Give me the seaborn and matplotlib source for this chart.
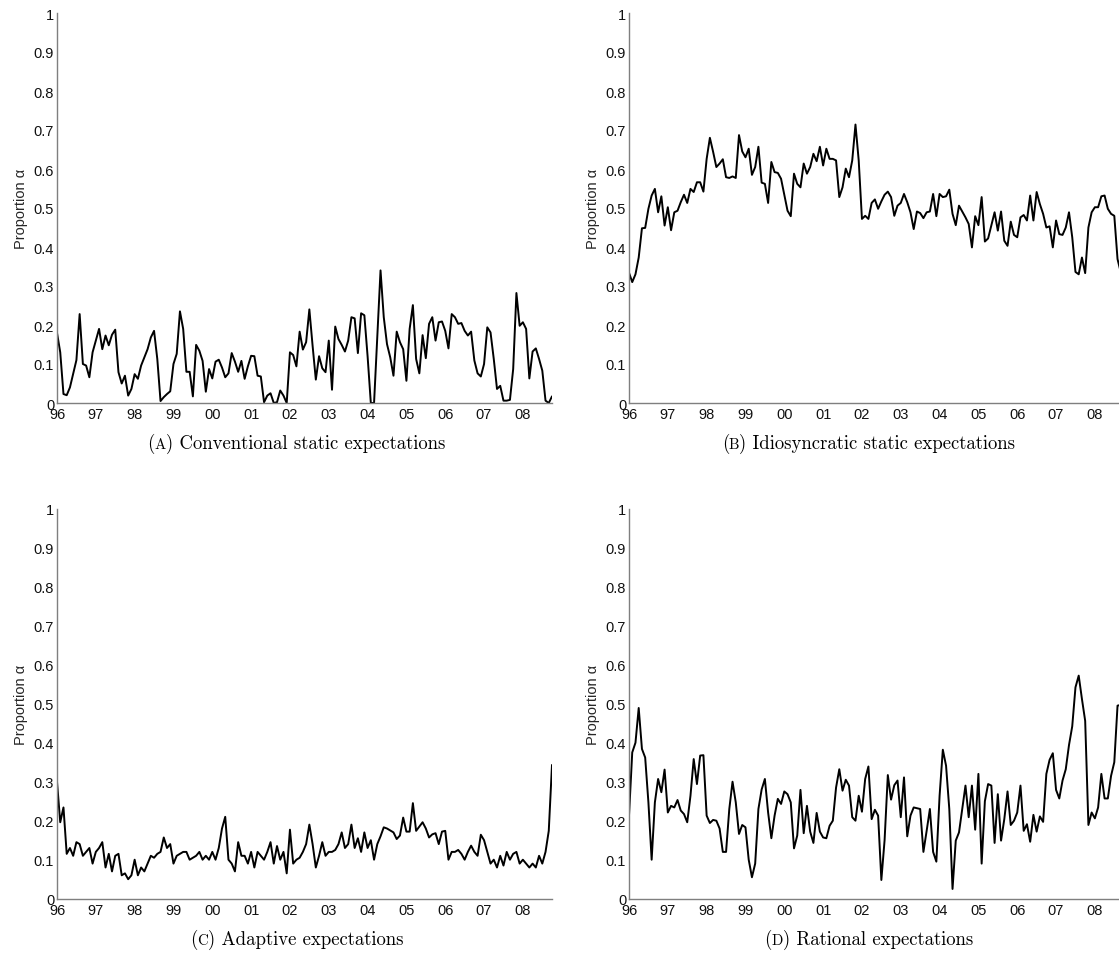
import numpy as np
import pandas as pd
import matplotlib
matplotlib.use("Agg")
import matplotlib.pyplot as plt
import seaborn as sns
from matplotlib.offsetbox import TextArea, HPacker, AnnotationBbox

# ---------------- data (monthly, Jan 1996 .. Oct 2008) ----------------
start_year = 1996
year_ticks = list(range(1996, 2009))
year_labels = ["96", "97", "98", "99", "00", "01", "02", "03", "04", "05", "06", "07", "08"]
y_ticks = [0, 0.1, 0.2, 0.3, 0.4, 0.5, 0.6, 0.7, 0.8, 0.9, 1]
y_labels = ["0", "0.1", "0.2", "0.3", "0.4", "0.5", "0.6", "0.7", "0.8", "0.9", "1"]

conventional = [
    0.18, 0.13, 0.023, 0.02, 0.04, 0.075, 0.11, 0.228, 0.10, 0.096, 0.066, 0.13,
    0.16, 0.19, 0.138, 0.173, 0.148, 0.175, 0.188, 0.079, 0.05, 0.07, 0.019, 0.036,
    0.074, 0.062, 0.096, 0.117, 0.138, 0.168, 0.185, 0.113, 0.005, 0.015, 0.023, 0.03,
    0.10, 0.126, 0.235, 0.19, 0.08, 0.08, 0.017, 0.149, 0.134, 0.108, 0.029, 0.087,
    0.063, 0.106, 0.111, 0.091, 0.066, 0.076, 0.128, 0.106, 0.08, 0.108, 0.062, 0.094,
    0.121, 0.12, 0.07, 0.068, 0.002, 0.019, 0.025, 0.0, 0.002, 0.032, 0.019, 0.0,
    0.13, 0.123, 0.094, 0.183, 0.137, 0.156, 0.24, 0.147, 0.06, 0.12, 0.089, 0.079,
    0.16, 0.034, 0.196, 0.164, 0.149, 0.132, 0.16, 0.22, 0.217, 0.128, 0.23, 0.225,
    0.12, 0.0, 0.0, 0.17, 0.34, 0.22, 0.151, 0.117, 0.07, 0.183, 0.156, 0.138,
    0.057, 0.19, 0.251, 0.113, 0.076, 0.174, 0.115, 0.203, 0.22, 0.16, 0.207, 0.209,
    0.185, 0.14, 0.228, 0.22, 0.203, 0.205, 0.185, 0.173, 0.183, 0.109, 0.076, 0.068,
    0.1, 0.194, 0.181, 0.113, 0.036, 0.044, 0.006, 0.006, 0.008, 0.087, 0.282, 0.198,
    0.207, 0.19, 0.063, 0.132, 0.14, 0.113, 0.083, 0.006, 0.0, 0.017,
]

idiosyncratic = [
    0.334, 0.31, 0.33, 0.373, 0.448, 0.449, 0.498, 0.532, 0.549, 0.489, 0.53, 0.455,
    0.502, 0.443, 0.489, 0.493, 0.515, 0.534, 0.513, 0.549, 0.541, 0.566, 0.566, 0.542,
    0.626, 0.68, 0.644, 0.605, 0.614, 0.625, 0.579, 0.577, 0.581, 0.577, 0.687, 0.645,
    0.63, 0.652, 0.585, 0.605, 0.657, 0.565, 0.562, 0.513, 0.618, 0.592, 0.59, 0.575,
    0.534, 0.493, 0.479, 0.588, 0.562, 0.553, 0.614, 0.588, 0.605, 0.639, 0.62, 0.657,
    0.609, 0.652, 0.626, 0.626, 0.622, 0.528, 0.553, 0.601, 0.579, 0.622, 0.714, 0.622,
    0.472, 0.48, 0.472, 0.513, 0.522, 0.498, 0.517, 0.534, 0.542, 0.528, 0.48, 0.506,
    0.513, 0.536, 0.515, 0.489, 0.446, 0.491, 0.487, 0.474, 0.489, 0.491, 0.536, 0.479,
    0.536, 0.528, 0.53, 0.547, 0.485, 0.456, 0.506, 0.491, 0.476, 0.459, 0.399, 0.479,
    0.456, 0.528, 0.414, 0.422, 0.455, 0.489, 0.442, 0.491, 0.416, 0.403, 0.465, 0.431,
    0.425, 0.476, 0.482, 0.468, 0.532, 0.468, 0.541, 0.51, 0.485, 0.45, 0.453, 0.399,
    0.468, 0.433, 0.431, 0.45, 0.489, 0.425, 0.336, 0.33, 0.373, 0.333, 0.45, 0.489,
    0.502, 0.502, 0.53, 0.532, 0.498, 0.485, 0.48, 0.369, 0.335, 0.32,
]

adaptive = [
    0.30, 0.196, 0.234, 0.115, 0.13, 0.11, 0.145, 0.14, 0.11, 0.12, 0.13, 0.09,
    0.12, 0.13, 0.145, 0.08, 0.115, 0.07, 0.11, 0.115, 0.06, 0.065, 0.05, 0.06,
    0.10, 0.06, 0.08, 0.07, 0.09, 0.11, 0.105, 0.115, 0.12, 0.157, 0.13, 0.14,
    0.09, 0.11, 0.115, 0.12, 0.12, 0.10, 0.105, 0.11, 0.12, 0.10, 0.11, 0.10,
    0.12, 0.10, 0.13, 0.18, 0.21, 0.10, 0.09, 0.07, 0.145, 0.11, 0.11, 0.09,
    0.12, 0.08, 0.12, 0.11, 0.10, 0.12, 0.145, 0.09, 0.135, 0.10, 0.12, 0.065,
    0.177, 0.09, 0.10, 0.105, 0.12, 0.14, 0.19, 0.14, 0.08, 0.11, 0.145, 0.11,
    0.12, 0.12, 0.125, 0.14, 0.17, 0.13, 0.14, 0.19, 0.13, 0.155, 0.12, 0.17,
    0.13, 0.15, 0.10, 0.14, 0.16, 0.183, 0.18, 0.175, 0.17, 0.153, 0.162, 0.208,
    0.172, 0.172, 0.245, 0.174, 0.185, 0.196, 0.18, 0.157, 0.165, 0.168, 0.14, 0.172,
    0.174, 0.10, 0.12, 0.12, 0.125, 0.115, 0.10, 0.12, 0.136, 0.12, 0.11, 0.164,
    0.15, 0.12, 0.09, 0.10, 0.08, 0.11, 0.085, 0.12, 0.10, 0.115, 0.12, 0.09,
    0.10, 0.09, 0.08, 0.09, 0.08, 0.11, 0.09, 0.12, 0.174, 0.343,
]

rational = [
    0.213, 0.375, 0.40, 0.489, 0.384, 0.362, 0.247, 0.10, 0.247, 0.307, 0.273, 0.331,
    0.221, 0.238, 0.234, 0.253, 0.226, 0.217, 0.196, 0.264, 0.358, 0.294, 0.367, 0.368,
    0.213, 0.194, 0.202, 0.2, 0.18, 0.12, 0.12, 0.23, 0.30, 0.247, 0.166, 0.189,
    0.183, 0.10, 0.055, 0.09, 0.23, 0.28, 0.307, 0.221, 0.155, 0.213, 0.256, 0.243,
    0.275, 0.268, 0.247, 0.129, 0.162, 0.279, 0.168, 0.238, 0.172, 0.143, 0.22, 0.172,
    0.157, 0.155, 0.187, 0.2, 0.285, 0.332, 0.277, 0.305, 0.29, 0.209, 0.2, 0.264,
    0.223, 0.307, 0.339, 0.204, 0.228, 0.213, 0.048, 0.15, 0.317, 0.254, 0.291, 0.303,
    0.209, 0.311, 0.16, 0.213, 0.234, 0.232, 0.23, 0.12, 0.174, 0.23, 0.12, 0.095,
    0.264, 0.382, 0.341, 0.23, 0.025, 0.149, 0.17, 0.23, 0.29, 0.209, 0.29, 0.177,
    0.32, 0.09, 0.25, 0.294, 0.29, 0.143, 0.268, 0.149, 0.204, 0.275, 0.189, 0.2,
    0.221, 0.29, 0.174, 0.191, 0.146, 0.215, 0.172, 0.211, 0.197, 0.32, 0.356, 0.373,
    0.279, 0.257, 0.303, 0.332, 0.394, 0.442, 0.542, 0.572, 0.512, 0.456, 0.189, 0.221,
    0.206, 0.234, 0.32, 0.257, 0.257, 0.315, 0.35, 0.495, 0.497, 0.497,
]

panel_letters = ["A", "B", "C", "D"]
panel_titles = ["Conventional static expectations", "Idiosyncratic static expectations",
                "Adaptive expectations", "Rational expectations"]
series = [conventional, idiosyncratic, adaptive, rational]
ylabel = "Proportion α"

# ---------------- figure ----------------
sns.set_theme(style="white")
plt.rcParams["font.family"] = ["Liberation Sans", "DejaVu Sans"]

W, H = 1119, 962
fig = plt.figure(figsize=(W / 100, H / 100), dpi=100)

# axes boxes in pixel coords (left, top, right, bottom) measured from top-left
boxes = [
    (57, 14, 552, 404),
    (629, 14, 1124, 404),
    (57, 509.7, 552, 899.7),
    (629, 509.7, 1124, 899.7),
]

spine_col = "#7f7f7f"
for k, (l, t, r, b) in enumerate(boxes):
    ax = fig.add_axes([l / W, (H - b) / H, (r - l) / W, (b - t) / H])
    vals = series[k]
    df = pd.DataFrame({"t": start_year + np.arange(len(vals)) / 12.0, "v": vals})
    sns.lineplot(data=df, x="t", y="v", ax=ax, color="black", linewidth=1.4)
    ax.set_xlim(1996, 2008.75)
    ax.set_ylim(0, 1)
    ax.set_xticks(year_ticks)
    ax.set_xticklabels(year_labels)
    ax.set_yticks(y_ticks)
    ax.set_yticklabels(y_labels)
    ax.set_xlabel("")
    ax.set_ylabel(ylabel, fontsize=10.5, labelpad=4)
    for s in ["top", "right"]:
        ax.spines[s].set_visible(False)
    for s in ["left", "bottom"]:
        ax.spines[s].set_color(spine_col)
        ax.spines[s].set_linewidth(1.0)
    ax.tick_params(axis="both", direction="in", length=4, width=1.0, color=spine_col,
                   labelsize=10.5, labelcolor="#111111", pad=2)
    ax.tick_params(axis="x", pad=3)
    ax.grid(False)

    # caption with small-caps letter
    cx = (l + r) / 2 - 8
    cy = b + 40
    cap_fs = 13.5
    tp = dict(family="cmr10", size=cap_fs, color="black")
    tp_small = dict(family="cmr10", size=cap_fs * 0.8, color="black")
    pack = HPacker(children=[TextArea("(", textprops=tp),
                             TextArea(panel_letters[k], textprops=tp_small),
                             TextArea(") " + panel_titles[k], textprops=tp)],
                   align="baseline", pad=0, sep=0)
    ab = AnnotationBbox(pack, (cx / W, (H - cy) / H), xycoords="figure fraction",
                        frameon=False, box_alignment=(0.5, 0.5), pad=0)
    fig.add_artist(ab)

fig.savefig("out.png", dpi=100)
